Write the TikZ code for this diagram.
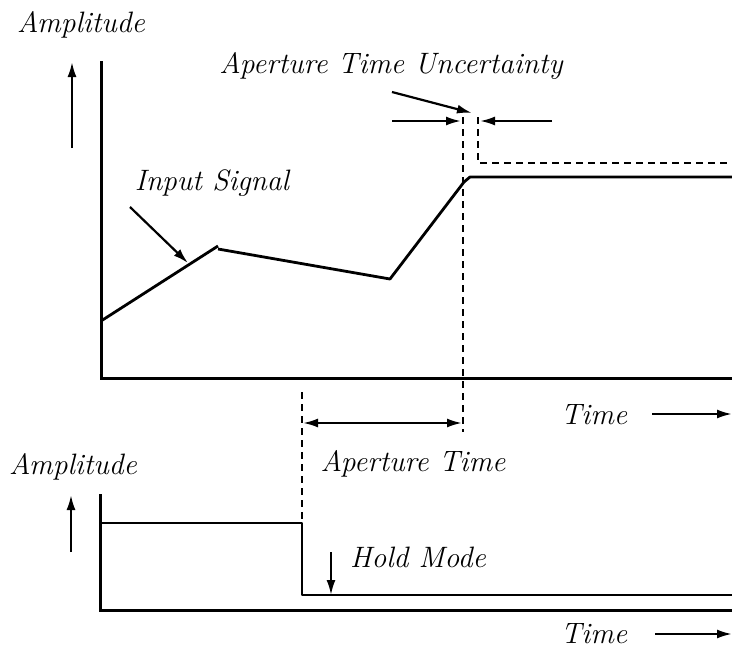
\documentclass[tikz,border=0pt]{standalone}
\usetikzlibrary{arrows.meta}
\begin{document}
\begin{tikzpicture}[x=1pt,y=-1pt,
  lbl/.style={font=\fontsize{29.5}{34}\selectfont\itshape, inner sep=0pt},
  axis/.style={line width=3pt},
  sig/.style={line width=2.8pt, line join=round},
  guide/.style={line width=2.4pt, dash pattern=on 7pt off 5pt},
  pointer/.style={line width=2.2pt, -{Latex[length=15pt,width=9pt]}},
  span/.style={line width=2.2pt, {Latex[length=15pt,width=9pt]}-{Latex[length=15pt,width=9pt]}}]
\useasboundingbox (0,0) rectangle (732,651);

% ---------- upper plot: input signal ----------
\node[lbl] (ampA) at (81,25) {Amplitude};
\coordinate (ampAlo) at (72,148);
\coordinate (ampAhi) at (72,62);
\draw[pointer] (ampAlo) -- (ampAhi);

\coordinate (originA) at (101,378);
\coordinate (yTopA) at (101,61);
\coordinate (xEndA) at (732,378);
\draw[axis] (yTopA) -- (originA) -- (xEndA);

% input signal
\coordinate (s0) at (101,321);
\coordinate (s1) at (218,246);
\coordinate (s2) at (218,249);
\coordinate (s3) at (390,279);
\coordinate (s4) at (464,182);
\coordinate (s5) at (470,177);
\coordinate (s6) at (732,177);
\draw[sig] (s0) -- (s1);
\draw[sig] (s2) -- (s3) -- (s4) -- (s5) -- (s6);

\node[lbl] (inp) at (212,183) {Input Signal};
\coordinate (inpTail) at (130,207);
\coordinate (inpTip) at (188,263);
\draw[pointer] (inpTail) -- (inpTip);

% aperture uncertainty window
\coordinate (gL) at (463,117);
\coordinate (gLlo) at (463,432);
\coordinate (gR) at (478,117);
\coordinate (gRc) at (478,163);
\coordinate (gRend) at (732,163);
\draw[guide] (gL) -- (gLlo);
\draw[guide] (gR) -- (gRc) -- (gRend);

\node[lbl] (unc) at (391,66) {Aperture Time Uncertainty};
\coordinate (uncTail) at (392,92);
\coordinate (uncTip) at (472,113);
\draw[pointer] (uncTail) -- (uncTip);
\coordinate (inL) at (392,121);
\coordinate (inLtip) at (461,121);
\coordinate (inR) at (552,121);
\coordinate (inRtip) at (480,121);
\draw[pointer] (inL) -- (inLtip);
\draw[pointer] (inR) -- (inRtip);

\node[lbl] (timeA) at (594,415) {Time};
\coordinate (tA0) at (652,414);
\coordinate (tA1) at (732,414);
\draw[pointer] (tA0) -- (tA1);

% aperture time
\coordinate (apL) at (302,392);
\coordinate (apLlo) at (302,523);
\draw[guide] (apL) -- (apLlo);
\coordinate (apA) at (303,423);
\coordinate (apB) at (462,423);
\draw[span] (apA) -- (apB);
\node[lbl] (apt) at (413,464) {Aperture Time};

% ---------- lower plot: control signal ----------
\node[lbl] (ampB) at (73,467) {Amplitude};
\coordinate (ampBlo) at (71,552);
\coordinate (ampBhi) at (71,495);
\draw[pointer] (ampBlo) -- (ampBhi);

\coordinate (originB) at (100,610);
\coordinate (yTopB) at (100,494);
\coordinate (xEndB) at (732,610);
\draw[axis] (yTopB) -- (originB) -- (xEndB);

\coordinate (c0) at (100,523);
\coordinate (c1) at (302,523);
\coordinate (c2) at (302,595);
\coordinate (c3) at (732,595);
\draw[sig] (c0) -- (c1) -- (c2) -- (c3);

\node[lbl] (hold) at (418,557) {Hold Mode};
\coordinate (holdTail) at (331,552);
\coordinate (holdTip) at (331,595);
\draw[pointer] (holdTail) -- (holdTip);

\node[lbl] (timeB) at (594,634) {Time};
\coordinate (tB0) at (655,634);
\coordinate (tB1) at (732,634);
\draw[pointer] (tB0) -- (tB1);
\end{tikzpicture}
\end{document}
